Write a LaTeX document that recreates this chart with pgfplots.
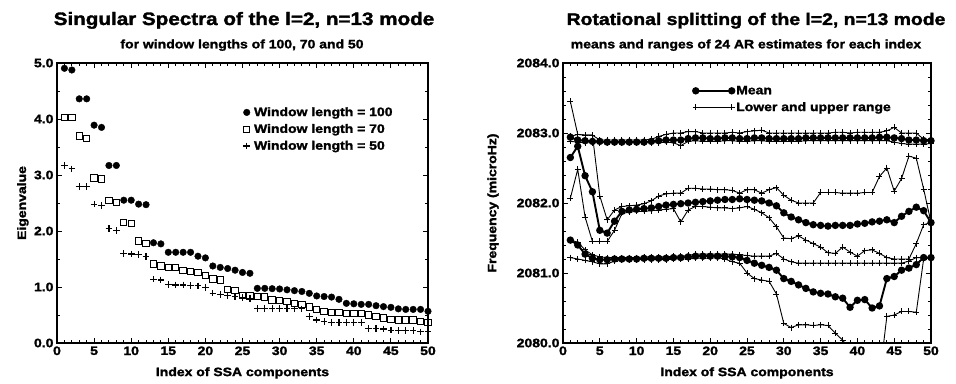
\documentclass[border=0pt]{standalone}
\usepackage{fontspec}
\setmainfont{Liberation Sans}[FakeStretch=1.15,BoldFeatures={FakeBold=1.8}]
\usepackage{pgfplots}
\pgfplotsset{compat=1.18}
\usepackage{pgfplotstable}

\pgfplotstableread{
idx w100 w70 w50
1 4.905 4.03 3.17
2 4.875 4.03 3.11
3 4.36 3.70 2.79
4 4.36 3.65 2.79
5 3.89 2.95 2.48
6 3.85 2.93 2.46
7 3.17 2.55 2.04
8 3.17 2.51 2.01
9 2.55 2.155 1.595
10 2.55 2.13 1.59
11 2.48 1.82 1.58
12 2.47 1.78 1.55
13 1.79 1.41 1.14
14 1.77 1.375 1.125
15 1.62 1.35 1.04
16 1.62 1.35 1.035
17 1.62 1.30 1.035
18 1.62 1.28 1.03
19 1.55 1.255 1.02
20 1.52 1.21 0.99
21 1.375 1.14 0.89
22 1.35 1.125 0.87
23 1.33 0.96 0.85
24 1.30 0.935 0.83
25 1.26 0.845 0.81
26 1.245 0.84 0.80
27 0.976 0.83 0.62
28 0.976 0.82 0.62
29 0.97 0.77 0.62
30 0.965 0.76 0.62
31 0.95 0.74 0.62
32 0.935 0.71 0.61
33 0.92 0.69 0.61
34 0.887 0.64 0.47
35 0.84 0.60 0.41
36 0.83 0.56 0.38
37 0.82 0.55 0.37
38 0.78 0.55 0.37
39 0.708 0.53 0.37
40 0.70 0.53 0.37
41 0.69 0.53 0.37
42 0.69 0.50 0.26
43 0.666 0.47 0.26
44 0.65 0.45 0.25
45 0.637 0.423 0.23
46 0.61 0.41 0.22
47 0.60 0.41 0.22
48 0.60 0.41 0.22
49 0.60 0.38 0.20
50 0.566 0.37 0.20
}\svdtab

\pgfplotstableread{
idx mA uA lA mB uB lB mC uC lC
1 2082.94 2082.95 2082.88 2082.65 2083.45 2082.07 2081.47 2081.47 2081.22
2 2082.90 2082.98 2082.87 2082.81 2082.98 2082.48 2081.40 2081.44 2081.20
3 2082.89 2082.97 2082.86 2082.39 2082.97 2081.80 2081.27 2081.33 2081.18
4 2082.88 2082.97 2082.86 2082.16 2082.97 2081.45 2081.21 2081.26 2081.16
5 2082.88 2082.90 2082.86 2081.61 2082.10 2081.45 2081.19 2081.23 2081.13
6 2082.87 2082.90 2082.86 2081.57 2081.76 2081.45 2081.19 2081.22 2081.13
7 2082.87 2082.90 2082.86 2081.74 2081.90 2081.61 2081.20 2081.22 2081.17
8 2082.87 2082.90 2082.86 2081.88 2081.95 2081.85 2081.20 2081.22 2081.18
9 2082.87 2082.90 2082.86 2081.90 2081.96 2081.87 2081.20 2081.22 2081.19
10 2082.87 2082.90 2082.86 2081.91 2081.97 2081.88 2081.20 2081.22 2081.19
11 2082.87 2082.90 2082.86 2081.92 2081.99 2081.88 2081.21 2081.23 2081.19
12 2082.88 2082.91 2082.86 2081.93 2082.03 2081.89 2081.21 2081.23 2081.19
13 2082.89 2082.95 2082.86 2081.95 2082.10 2081.90 2081.21 2081.23 2081.19
14 2082.90 2082.98 2082.87 2081.97 2082.13 2081.91 2081.21 2081.23 2081.19
15 2082.90 2083.00 2082.86 2081.98 2082.14 2081.92 2081.22 2081.24 2081.20
16 2082.90 2083.00 2082.82 2081.99 2082.14 2081.73 2081.22 2081.24 2081.20
17 2082.92 2083.02 2082.88 2082.00 2082.21 2081.90 2081.23 2081.25 2081.20
18 2082.93 2083.02 2082.89 2082.01 2082.21 2081.95 2081.24 2081.27 2081.21
19 2082.93 2083.00 2082.88 2082.02 2082.20 2081.95 2081.24 2081.27 2081.21
20 2082.92 2083.00 2082.88 2082.03 2082.20 2081.94 2081.24 2081.27 2081.21
21 2082.92 2083.00 2082.88 2082.04 2082.19 2081.93 2081.24 2081.27 2081.22
22 2082.93 2083.00 2082.89 2082.05 2082.19 2081.93 2081.24 2081.27 2081.20
23 2082.93 2083.01 2082.89 2082.05 2082.18 2081.92 2081.23 2081.27 2081.16
24 2082.92 2083.00 2082.88 2082.06 2082.14 2081.93 2081.22 2081.26 2081.14
25 2082.92 2083.02 2082.88 2082.05 2082.19 2081.95 2081.18 2081.25 2081.00
26 2082.93 2083.03 2082.89 2082.04 2082.19 2081.91 2081.14 2081.24 2080.92
27 2082.93 2083.04 2082.89 2082.03 2082.14 2081.86 2081.11 2081.24 2080.90
28 2082.92 2083.00 2082.88 2082.00 2082.19 2081.79 2081.08 2081.24 2080.88
29 2082.92 2083.00 2082.88 2081.96 2082.22 2081.66 2081.04 2081.28 2080.70
30 2082.92 2083.00 2082.88 2081.86 2082.11 2081.50 2080.92 2081.20 2080.28
31 2082.92 2083.00 2082.88 2081.80 2082.04 2081.49 2080.88 2081.16 2080.22
32 2082.92 2083.00 2082.88 2081.76 2082.00 2081.53 2080.83 2081.14 2080.26
33 2082.93 2083.00 2082.89 2081.72 2082.00 2081.47 2080.78 2081.14 2080.26
34 2082.93 2083.00 2082.89 2081.69 2082.00 2081.42 2080.73 2081.14 2080.25
35 2082.93 2083.00 2082.89 2081.68 2082.15 2081.37 2080.71 2081.14 2080.26
36 2082.93 2083.00 2082.89 2081.67 2082.15 2081.29 2080.70 2081.14 2080.25
37 2082.93 2083.01 2082.89 2081.68 2082.15 2081.28 2080.66 2081.14 2080.14
38 2082.93 2083.01 2082.89 2081.68 2082.14 2081.37 2080.64 2081.14 2080.04
39 2082.93 2083.00 2082.89 2081.68 2082.14 2081.30 2080.51 2081.14 2079.90
40 2082.93 2083.01 2082.89 2081.70 2082.14 2081.24 2080.61 2081.14 2079.80
41 2082.93 2083.01 2082.89 2081.71 2082.15 2081.32 2080.62 2081.14 2079.70
42 2082.93 2083.01 2082.89 2081.73 2082.15 2081.33 2080.50 2081.14 2079.60
43 2082.94 2083.01 2082.89 2081.74 2082.38 2081.28 2080.53 2081.14 2079.50
44 2082.94 2083.03 2082.89 2081.76 2082.50 2081.22 2080.92 2081.14 2080.38
45 2082.93 2083.08 2082.87 2081.72 2082.17 2081.20 2080.95 2081.14 2080.40
46 2082.92 2083.00 2082.85 2081.81 2082.35 2081.20 2081.04 2081.14 2080.45
47 2082.90 2083.00 2082.84 2081.88 2082.67 2081.20 2081.07 2081.17 2080.45
48 2082.90 2083.00 2082.84 2081.94 2082.64 2081.42 2081.12 2081.22 2080.44
49 2082.89 2082.91 2082.84 2081.89 2082.20 2081.69 2081.22 2081.22 2081.20
50 2082.89 2082.90 2082.85 2081.72 2081.72 2081.72 2081.22 2081.22 2081.22
}\freqtab

\newcommand\fs[1]{\bfseries\fontsize{#1}{#1}\selectfont}

\pgfplotsset{
  myaxis/.style={
    scale only axis,
    anchor=south west,
    height=280bp,
    font=\fs{12.2},
    axis line style={line width=1.2bp},
    tick style={black, line width=0.9bp},
    major tick length=5bp,
    minor tick length=3bp,
    tick align=inside,
    xtick pos=both, ytick pos=both,
    xticklabel pos=lower, yticklabel pos=left,
    xmin=0, xmax=50,
    xtick={0,5,10,15,20,25,30,35,40,45,50},
    xticklabels={0,5,10,15,20,25,30,35,40,45,50},
    minor x tick num=4,
    xlabel={Index of SSA components},
    x label style={at={(axis description cs:0.5,-0.107)}, anchor=center, font=\fs{12.2}},
    legend cell align=left,
  },
  meanstyle/.style={black, line width=1.9bp, mark=*, mark size=2.7bp, mark options={solid}},
  rangestyle/.style={black, line width=0.9bp, mark=+, mark size=3bp, mark options={line width=0.9bp}},
}

\begin{document}
\begin{tikzpicture}
\path[use as bounding box] (0,0) rectangle (956bp,384bp);

\begin{axis}[myaxis, at={(57bp,41bp)}, width=371bp,
  ymin=0, ymax=5, ytick={0,1,2,3,4,5},
  yticklabels={0.0,1.0,2.0,3.0,4.0,5.0}, minor y tick num=1,
  ylabel={Eigenvalue},
  y label style={at={(axis description cs:-0.092,0.5)}, anchor=center, font=\fs{12.2}},
  legend style={at={(0.502,0.848)}, anchor=north west, draw=none, fill=none,
    inner sep=0pt, row sep=3.5bp, font=\fs{12.2},
    nodes={inner sep=1.5bp},
    /tikz/every odd column/.append style={column sep=2.5bp}},
  legend image code/.code={\draw[#1] plot coordinates {(3bp,0bp)};},
]
\addplot[only marks, black, mark=*, mark size=3.3bp] table[x=idx,y=w100]{\svdtab};
\addlegendentry{Window length = 100}
\addplot[only marks, black, mark=square, mark size=3.2bp, mark options={line width=1bp}] table[x=idx,y=w70]{\svdtab};
\addlegendentry{Window length = 70}
\addplot[only marks, black, mark=+, mark size=3.3bp, mark options={line width=1.2bp}] table[x=idx,y=w50]{\svdtab};
\addlegendentry{Window length = 50}
\end{axis}

\begin{axis}[myaxis, at={(563bp,41bp)}, width=368bp,
  ymin=2080, ymax=2084, ytick={2080,2081,2082,2083,2084},
  yticklabels={2080.0,2081.0,2082.0,2083.0,2084.0}, minor y tick num=4,
  ylabel={Frequency (microHz)},
  y label style={at={(axis description cs:-0.19,0.5)}, anchor=center, font=\fs{12.2}},
  legend style={at={(0.352,0.935)}, anchor=north west, yshift=-3bp, draw=none, fill=none,
    inner sep=0pt, row sep=3.5bp, font=\fs{12.2},
    nodes={inner sep=1.5bp}},
  legend image code/.code={\draw[#1] plot coordinates {(0bp,0bp) (36bp,0bp)};},
]
\addlegendimage{meanstyle}
\addlegendentry{Mean}
\addlegendimage{rangestyle}
\addlegendentry{Lower and upper range}
\addplot[rangestyle, forget plot] table[x=idx,y=uA]{\freqtab};
\addplot[rangestyle, forget plot] table[x=idx,y=lA]{\freqtab};
\addplot[rangestyle, forget plot] table[x=idx,y=uB]{\freqtab};
\addplot[rangestyle, forget plot] table[x=idx,y=lB]{\freqtab};
\addplot[rangestyle, forget plot] table[x=idx,y=uC]{\freqtab};
\addplot[rangestyle, forget plot] table[x=idx,y=lC]{\freqtab};
\addplot[meanstyle, forget plot] table[x=idx,y=mA]{\freqtab};
\addplot[meanstyle, forget plot] table[x=idx,y=mB]{\freqtab};
\addplot[meanstyle, forget plot] table[x=idx,y=mC]{\freqtab};
\end{axis}

\node[anchor=base, font=\fs{18.0}] at (244bp,359bp) {Singular Spectra of the l=2, n=13 mode};
\node[anchor=base, font=\fs{12.2}] at (242bp,335.7bp) {for window lengths of 100, 70 and 50};
\node[anchor=base, font=\fs{16.9}] at (756bp,359bp) {Rotational splitting of the l=2, n=13 mode};
\node[anchor=base, font=\fs{12.2}] at (746bp,335.7bp) {means and ranges of 24 AR estimates for each index};
\end{tikzpicture}
\end{document}
